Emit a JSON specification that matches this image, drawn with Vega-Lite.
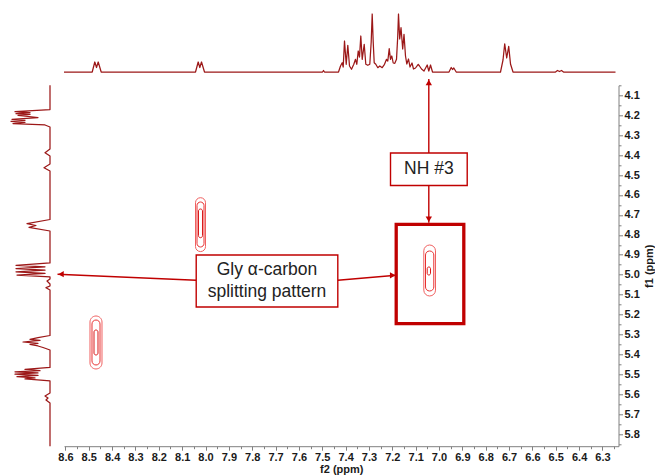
{
  "$schema": "https://vega.github.io/schema/vega-lite/v6.json",
  "padding": {"left": 5, "top": 13, "right": 0, "bottom": 0},
  "config": {
    "view": {"stroke": null},
    "font": "Liberation Sans",
    "axis": {
      "domainColor": "#808080", "tickColor": "#808080", "grid": false,
      "labelFont": "Liberation Sans", "labelFontSize": 11, "labelFontWeight": "bold", "labelColor": "#1a1a1a",
      "titleFont": "Liberation Sans", "titleFontSize": 11, "titleFontWeight": "bold", "titleColor": "#1a1a1a",
      "labelOverlap": false, "labelFlush": false
    }
  },
  "datasets": {
    "top": [
      {"f2": 8.606, "i": 0}, {"f2": 8.4852, "i": 0}, {"f2": 8.4741, "i": 10}, {"f2": 8.4668, "i": 4.5}, {"f2": 8.4595, "i": 10}, {"f2": 8.4467, "i": 0},
      {"f2": 8.0428, "i": 0}, {"f2": 8.0313, "i": 10}, {"f2": 8.0244, "i": 4.5}, {"f2": 8.0171, "i": 10}, {"f2": 8.0043, "i": 0},
      {"f2": 7.4989, "i": 0}, {"f2": 7.4947, "i": 1.5}, {"f2": 7.4904, "i": 0},
      {"f2": 7.4304, "i": 0}, {"f2": 7.4218, "i": 6}, {"f2": 7.4146, "i": 9.3}, {"f2": 7.4103, "i": 5}, {"f2": 7.4047, "i": 31}, {"f2": 7.3974, "i": 7.7}, {"f2": 7.3906, "i": 26.7}, {"f2": 7.3833, "i": 6}, {"f2": 7.3747, "i": 2.7}, {"f2": 7.3649, "i": 7.7}, {"f2": 7.3576, "i": 12.7}, {"f2": 7.352, "i": 7.7}, {"f2": 7.346, "i": 21}, {"f2": 7.3405, "i": 15}, {"f2": 7.3349, "i": 36}, {"f2": 7.3289, "i": 12.7}, {"f2": 7.3203, "i": 27.7}, {"f2": 7.3135, "i": 7.7}, {"f2": 7.3049, "i": 6.7}, {"f2": 7.2964, "i": 7.7}, {"f2": 7.2904, "i": 30}, {"f2": 7.2861, "i": 58}, {"f2": 7.2818, "i": 30}, {"f2": 7.2775, "i": 9.3}, {"f2": 7.2707, "i": 7.7}, {"f2": 7.2621, "i": 4.3}, {"f2": 7.2535, "i": 6}, {"f2": 7.2433, "i": 4.3}, {"f2": 7.2334, "i": 7.7}, {"f2": 7.2248, "i": 12.7}, {"f2": 7.2193, "i": 11}, {"f2": 7.2133, "i": 23.3}, {"f2": 7.2077, "i": 12.7}, {"f2": 7.2021, "i": 16}, {"f2": 7.1961, "i": 9}, {"f2": 7.1893, "i": 8.7}, {"f2": 7.182, "i": 12.7}, {"f2": 7.1769, "i": 35}, {"f2": 7.1735, "i": 58}, {"f2": 7.1683, "i": 33}, {"f2": 7.1627, "i": 44.3}, {"f2": 7.1555, "i": 23}, {"f2": 7.1499, "i": 37.7}, {"f2": 7.1435, "i": 16}, {"f2": 7.1379, "i": 8}, {"f2": 7.1306, "i": 13}, {"f2": 7.1242, "i": 5}, {"f2": 7.1156, "i": 9}, {"f2": 7.1092, "i": 3}, {"f2": 7.1006, "i": 4}, {"f2": 7.0891, "i": 7.7}, {"f2": 7.0835, "i": 6}, {"f2": 7.075, "i": 3}, {"f2": 7.0642, "i": 1}, {"f2": 7.0505, "i": 7}, {"f2": 7.0437, "i": 1}, {"f2": 7.0364, "i": 7}, {"f2": 7.0278, "i": 0},
      {"f2": 6.9572, "i": 0}, {"f2": 6.9477, "i": 4.5}, {"f2": 6.9422, "i": 2.5}, {"f2": 6.9366, "i": 4}, {"f2": 6.9263, "i": 0},
      {"f2": 6.7366, "i": 0}, {"f2": 6.7259, "i": 12}, {"f2": 6.7186, "i": 28.2}, {"f2": 6.7101, "i": 14}, {"f2": 6.7015, "i": 25.6}, {"f2": 6.6938, "i": 8}, {"f2": 6.6831, "i": 0},
      {"f2": 6.5011, "i": 0}, {"f2": 6.4925, "i": 1.5}, {"f2": 6.484, "i": 0.5}, {"f2": 6.4754, "i": 1.5}, {"f2": 6.4668, "i": 0}, {"f2": 6.2441, "i": 0}
    ],
    "side": [
      {"f1": 4.05, "i": 0}, {"f1": 4.1714, "i": 0}, {"f1": 4.1824, "i": 35}, {"f1": 4.1874, "i": 20}, {"f1": 4.1924, "i": 34}, {"f1": 4.1964, "i": 20}, {"f1": 4.2005, "i": 32}, {"f1": 4.2115, "i": 12}, {"f1": 4.2205, "i": 38}, {"f1": 4.2255, "i": 25}, {"f1": 4.2305, "i": 39}, {"f1": 4.2356, "i": 25}, {"f1": 4.2416, "i": 37}, {"f1": 4.2491, "i": 5}, {"f1": 4.2591, "i": 0},
      {"f1": 4.3695, "i": 0}, {"f1": 4.388, "i": 5}, {"f1": 4.4046, "i": 0}, {"f1": 4.4447, "i": 0}, {"f1": 4.4632, "i": 6}, {"f1": 4.4798, "i": 0},
      {"f1": 4.723, "i": 0}, {"f1": 4.7441, "i": 23}, {"f1": 4.7531, "i": 14}, {"f1": 4.7621, "i": 21}, {"f1": 4.7807, "i": 0},
      {"f1": 4.9412, "i": 0}, {"f1": 4.9527, "i": 34}, {"f1": 4.9602, "i": 5}, {"f1": 4.9688, "i": 34}, {"f1": 4.9768, "i": 5}, {"f1": 4.9853, "i": 34}, {"f1": 4.9933, "i": 5}, {"f1": 5.0014, "i": 33}, {"f1": 5.0114, "i": 0},
      {"f1": 5.0214, "i": 0}, {"f1": 5.0314, "i": 3}, {"f1": 5.0465, "i": 0}, {"f1": 5.0565, "i": 0}, {"f1": 5.065, "i": 4}, {"f1": 5.0766, "i": 0},
      {"f1": 5.3048, "i": 0}, {"f1": 5.3158, "i": 12}, {"f1": 5.3238, "i": 20}, {"f1": 5.3298, "i": 10}, {"f1": 5.3374, "i": 27}, {"f1": 5.3439, "i": 12}, {"f1": 5.3499, "i": 20}, {"f1": 5.3574, "i": 12}, {"f1": 5.3649, "i": 7}, {"f1": 5.3775, "i": 0},
      {"f1": 5.4652, "i": 0}, {"f1": 5.4753, "i": 25}, {"f1": 5.4813, "i": 10}, {"f1": 5.4868, "i": 35}, {"f1": 5.4928, "i": 12}, {"f1": 5.4988, "i": 35}, {"f1": 5.5049, "i": 12}, {"f1": 5.5109, "i": 33}, {"f1": 5.5179, "i": 15}, {"f1": 5.5229, "i": 25}, {"f1": 5.5329, "i": 0},
      {"f1": 5.5931, "i": 0}, {"f1": 5.6082, "i": 5}, {"f1": 5.6182, "i": 2}, {"f1": 5.6283, "i": 4}, {"f1": 5.6433, "i": 0}, {"f1": 5.86, "i": 0}
    ],
    "contours": [
      {"level": 1, "f2a": 8.4947, "f2b": 8.4433, "f1a": 5.207, "f1b": 5.4727},
      {"level": 2, "f2a": 8.4861, "f2b": 8.4518, "f1a": 5.227, "f1b": 5.4527},
      {"level": 3, "f2a": 8.4775, "f2b": 8.4604, "f1a": 5.2772, "f1b": 5.4026},
      {"level": 1, "f2a": 8.0428, "f2b": 8.0, "f1a": 4.6137, "f1b": 4.884},
      {"level": 2, "f2a": 8.0364, "f2b": 8.0064, "f1a": 4.6353, "f1b": 4.8609},
      {"level": 3, "f2a": 8.03, "f2b": 8.0129, "f1a": 4.6704, "f1b": 4.8143},
      {"level": 1, "f2a": 7.0651, "f2b": 7.015, "f1a": 4.8509, "f1b": 5.1067},
      {"level": 2, "f2a": 7.0578, "f2b": 7.0223, "f1a": 4.881, "f1b": 5.0816},
      {"level": 3, "f2a": 7.0505, "f2b": 7.0364, "f1a": 4.9612, "f1b": 5.0014}
    ],
    "boxes": [
      {"kind": "label", "x1": 8.0398, "x2": 7.4334, "y1": 4.901, "y2": 5.1618, "tx": 7.7366, "ty": 4.9763, "label": "Gly α-carbon\nsplitting pattern"},
      {"kind": "label", "x1": 7.2077, "x2": 6.8792, "y1": 4.3895, "y2": 4.5525, "tx": 7.0437, "ty": 4.4698, "label": "NH #3"},
      {"kind": "highlight", "x1": 7.1833, "x2": 6.8938, "y1": 4.747, "y2": 5.2456}
    ],
    "arrows": [
      {"id": "nh_up", "xa": 7.0437, "ya": 4.3895, "xb": 7.0437, "yb": 4.018},
      {"id": "nh_down", "xa": 7.0437, "ya": 4.5525, "xb": 7.0437, "yb": 4.739},
      {"id": "gly_left", "xa": 8.0398, "ya": 5.028, "xb": 8.6338, "yb": 4.9973},
      {"id": "gly_right", "xa": 7.4334, "ya": 5.028, "xb": 7.1833, "yb": 5.003}
    ]
  },
  "columns": 2,
  "bounds": "flush",
  "spacing": {"row": 9.3, "column": 8},
  "concat": [
    {
      "width": 50.5, "height": 62,
      "data": {"values": []},
      "mark": "point"
    },
    {
      "width": 554.5, "height": 62,
      "data": {"name": "top"},
      "mark": {"type": "line", "color": "#9c1818", "strokeWidth": 1.25, "strokeJoin": "round"},
      "encoding": {
        "x": {"field": "f2", "type": "quantitative", "scale": {"domain": [6.2313, 8.606], "reverse": true, "nice": false, "zero": false}, "axis": null},
        "y": {"field": "i", "type": "quantitative", "scale": {"domain": [-4, 58], "nice": false, "zero": false}, "axis": null}
      }
    },
    {
      "width": 50.5, "height": 360.9,
      "data": {"name": "side"},
      "mark": {"type": "line", "color": "#9c1818", "strokeWidth": 1.25, "strokeJoin": "round"},
      "encoding": {
        "x": {"field": "i", "type": "quantitative", "scale": {"domain": [-5.5, 45], "reverse": true, "nice": false, "zero": false}, "axis": null},
        "y": {"field": "f1", "type": "quantitative", "scale": {"domain": [4.05, 5.86], "reverse": true, "nice": false, "zero": false}, "axis": null},
        "order": {"field": "f1", "type": "quantitative"}
      }
    },
    {
      "width": 554.5, "height": 360.9,
      "resolve": {"axis": {"x": "independent", "y": "independent"}},
      "layer": [
        {
          "encoding": {
            "x": {"type": "quantitative", "scale": {"domain": [6.2313, 8.606], "reverse": true, "nice": false, "zero": false},
              "axis": {"orient": "bottom", "title": "f2 (ppm)",
                "values": [8.6,8.5,8.4,8.3,8.2,8.1,8.0,7.9,7.8,7.7,7.6,7.5,7.4,7.3,7.2,7.1,7.0,6.9,6.8,6.7,6.6,6.5,6.4,6.3],
                "format": ".1f", "tickSize": 4, "labelPadding": 1, "titlePadding": 1}},
            "y": {"type": "quantitative", "scale": {"domain": [4.05, 5.86], "reverse": true, "nice": false, "zero": false},
              "axis": {"orient": "right", "title": "f1 (ppm)", "titleAngle": 270, "titleBaseline": "top",
                "values": [4.1,4.2,4.3,4.4,4.5,4.6,4.7,4.8,4.9,5.0,5.1,5.2,5.3,5.4,5.5,5.6,5.7,5.8],
                "format": ".1f", "tickSize": 4, "labelPadding": 1.5, "titlePadding": 4}}
          },
          "layer": [
            {
              "data": {"name": "contours"},
              "transform": [{"filter": "datum.level == 1"}],
              "mark": {"type": "rect", "filled": false, "stroke": "#f06060", "strokeWidth": 1, "cornerRadius": 6},
              "encoding": {"x": {"field": "f2a"}, "x2": {"field": "f2b"}, "y": {"field": "f1a"}, "y2": {"field": "f1b"}}
            },
            {
              "data": {"name": "contours"},
              "transform": [{"filter": "datum.level == 2"}],
              "mark": {"type": "rect", "filled": false, "stroke": "#e83030", "strokeWidth": 1, "cornerRadius": 4},
              "encoding": {"x": {"field": "f2a"}, "x2": {"field": "f2b"}, "y": {"field": "f1a"}, "y2": {"field": "f1b"}}
            },
            {
              "data": {"name": "contours"},
              "transform": [{"filter": "datum.level == 3"}],
              "mark": {"type": "rect", "filled": false, "stroke": "#d81818", "strokeWidth": 1, "cornerRadius": 2},
              "encoding": {"x": {"field": "f2a"}, "x2": {"field": "f2b"}, "y": {"field": "f1a"}, "y2": {"field": "f1b"}}
            },
            {
              "data": {"name": "arrows"},
              "mark": {"type": "rule", "color": "#c00000", "strokeWidth": 1.4},
              "encoding": {"x": {"field": "xa"}, "x2": {"field": "xb"}, "y": {"field": "ya"}, "y2": {"field": "yb"}}
            },
            {
              "data": {"name": "boxes"},
              "transform": [{"filter": "datum.kind == 'label'"}],
              "mark": {"type": "rect", "fill": "white", "stroke": "#c00000", "strokeWidth": 1.4},
              "encoding": {"x": {"field": "x1"}, "x2": {"field": "x2"}, "y": {"field": "y1"}, "y2": {"field": "y2"}}
            },
            {
              "data": {"name": "boxes"},
              "transform": [{"filter": "datum.kind == 'highlight'"}],
              "mark": {"type": "rect", "filled": false, "stroke": "#c00000", "strokeWidth": 3.3},
              "encoding": {"x": {"field": "x1"}, "x2": {"field": "x2"}, "y": {"field": "y1"}, "y2": {"field": "y2"}}
            },
            {
              "data": {"name": "boxes"},
              "transform": [{"filter": "datum.kind == 'label'"}],
              "mark": {"type": "text", "font": "Liberation Sans", "fontSize": 17.5, "color": "#222222", "align": "center", "baseline": "middle", "lineBreak": "\n", "lineHeight": 22},
              "encoding": {"x": {"field": "tx"}, "y": {"field": "ty"}, "text": {"field": "label"}}
            },
            {
              "data": {"name": "arrows"},
              "transform": [{"filter": "datum.id == 'nh_up'"}],
              "mark": {"type": "point", "shape": "triangle-up", "filled": true, "color": "#c00000", "opacity": 1, "size": 40, "yOffset": 3.5},
              "encoding": {"x": {"field": "xb"}, "y": {"field": "yb"}}
            },
            {
              "data": {"name": "arrows"},
              "transform": [{"filter": "datum.id == 'nh_down'"}],
              "mark": {"type": "point", "shape": "triangle-down", "filled": true, "color": "#c00000", "opacity": 1, "size": 40, "yOffset": -3.5},
              "encoding": {"x": {"field": "xb"}, "y": {"field": "yb"}}
            },
            {
              "data": {"name": "arrows"},
              "transform": [{"filter": "datum.id == 'gly_left'"}],
              "mark": {"type": "point", "shape": "triangle-left", "filled": true, "color": "#c00000", "opacity": 1, "size": 40, "xOffset": 3.5},
              "encoding": {"x": {"field": "xb"}, "y": {"field": "yb"}}
            },
            {
              "data": {"name": "arrows"},
              "transform": [{"filter": "datum.id == 'gly_right'"}],
              "mark": {"type": "point", "shape": "triangle-right", "filled": true, "color": "#c00000", "opacity": 1, "size": 40, "xOffset": -3.5},
              "encoding": {"x": {"field": "xb"}, "y": {"field": "yb"}}
            }
          ]
        },
        {
          "data": {"name": "arrows"},
          "mark": {"type": "rule", "opacity": 0},
          "encoding": {
            "x": {"field": "xa", "type": "quantitative", "scale": {"domain": [6.2313, 8.606], "reverse": true, "nice": false, "zero": false},
              "axis": {"orient": "bottom", "title": null, "labels": false, "domain": false, "tickSize": 2.5,
                "values": [8.55,8.45,8.35,8.25,8.15,8.05,7.95,7.85,7.75,7.65,7.55,7.45,7.35,7.25,7.15,7.05,6.95,6.85,6.75,6.65,6.55,6.45,6.35,6.25]}},
            "y": {"field": "ya", "type": "quantitative", "scale": {"domain": [4.05, 5.86], "reverse": true, "nice": false, "zero": false},
              "axis": {"orient": "right", "title": null, "labels": false, "domain": false, "tickSize": 2.5,
                "values": [4.05,4.15,4.25,4.35,4.45,4.55,4.65,4.75,4.85,4.95,5.05,5.15,5.25,5.35,5.45,5.55,5.65,5.75,5.85]}}
          }
        }
      ]
    }
  ]
}
